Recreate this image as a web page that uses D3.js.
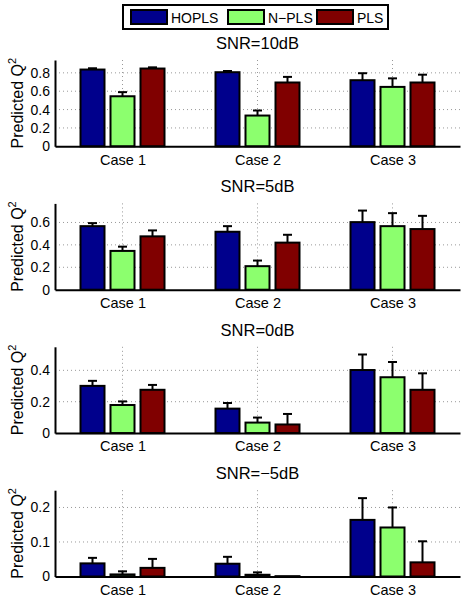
<!DOCTYPE html>
<html>
<head>
<meta charset="utf-8">
<script src="https://cdn.jsdelivr.net/npm/d3@7"></script>
<style>
  body { margin: 0; background: #fff; }
  svg { font-family: "Liberation Sans", Arial, sans-serif; }
</style>
</head>
<body>
<script>
// data: rows = cases, columns = methods
const methods = ["HOPLS", "N\u2212PLS", "PLS"];
const cases = ["Case 1", "Case 2", "Case 3"];
const snrTitles = ["SNR=10dB", "SNR=5dB", "SNR=0dB", "SNR=\u22125dB"];

const mean10 = [[0.836, 0.545, 0.847], [0.807, 0.335, 0.695], [0.720, 0.647, 0.695]];
const err10  = [[0.014, 0.045, 0.013], [0.013, 0.055, 0.061], [0.076, 0.093, 0.085]];
const mean5  = [[0.567, 0.346, 0.476], [0.517, 0.210, 0.420], [0.603, 0.567, 0.541]];
const err5   = [[0.027, 0.038, 0.053], [0.050, 0.050, 0.070], [0.103, 0.116, 0.118]];
const mean0  = [[0.301, 0.179, 0.276], [0.156, 0.067, 0.055], [0.402, 0.356, 0.276]];
const err0   = [[0.032, 0.023, 0.031], [0.036, 0.032, 0.067], [0.099, 0.097, 0.105]];
const meanM5 = [[0.038, 0.006, 0.025], [0.037, 0.005, 0.001], [0.164, 0.142, 0.041]];
const errM5  = [[0.016, 0.009, 0.026], [0.020, 0.007, 0.000], [0.063, 0.058, 0.061]];

const yMax   = [0.94, 0.77, 0.55, 0.25];
const yTicks = [[0, 0.2, 0.4, 0.6, 0.8], [0, 0.2, 0.4, 0.6], [0, 0.2, 0.4], [0, 0.1, 0.2]];

const means = [mean10, mean5, mean0, meanM5];
const errs = [err10, err5, err0, errM5];
const colors = ["rgb(0,0,140)", "rgb(140,255,110)", "rgb(128,0,0)"];

const W = 464, H = 598;
const left = 55, right = 460;
const firstTop = 60, panelStep = 143.4, plotH = 86.3;

const svg = d3.select("body").append("svg")
  .attr("width", W)
  .attr("height", H);

const x = d3.scaleLinear().domain([0.5, 3.5]).range([left, right]);
const groupStep = 2 / 9;          // matlab grouped bar spacing
const barW = groupStep * 0.8;

snrTitles.forEach((title, p) => {
  const top = firstTop + p * panelStep;
  const y = d3.scaleLinear().domain([0, yMax[p]]).range([top + plotH, top]);
  const g = svg.append("g");

  // dotted grid
  g.selectAll(".hgrid")
    .data(yTicks[p].filter(d => d > 0))
    .enter().append("line")
    .attr("x1", left).attr("x2", right)
    .attr("y1", d => y(d)).attr("y2", d => y(d))
    .attr("stroke", "#999").attr("stroke-width", 1)
    .attr("stroke-dasharray", "1,3");
  g.selectAll(".vgrid")
    .data([1, 2, 3])
    .enter().append("line")
    .attr("x1", d => x(d)).attr("x2", d => x(d))
    .attr("y1", top).attr("y2", y(0))
    .attr("stroke", "#999").attr("stroke-width", 1)
    .attr("stroke-dasharray", "1,3");

  const rows = [];
  means[p].forEach((row, c) => row.forEach((v, m) => {
    rows.push({c: c + 1, m: m, v: v, e: errs[p][c][m]});
  }));
  const cx = d => d.c + (d.m - 1) * groupStep;

  // error bars (upper half only)
  const eb = g.selectAll(".err").data(rows.filter(d => d.e > 0)).enter().append("g");
  eb.append("line")
    .attr("x1", d => x(cx(d))).attr("x2", d => x(cx(d)))
    .attr("y1", d => y(d.v)).attr("y2", d => y(d.v + d.e))
    .attr("stroke", "#000").attr("stroke-width", 2);
  eb.append("line")
    .attr("x1", d => x(cx(d)) - 4.5).attr("x2", d => x(cx(d)) + 4.5)
    .attr("y1", d => y(d.v + d.e)).attr("y2", d => y(d.v + d.e))
    .attr("stroke", "#000").attr("stroke-width", 2);

  g.selectAll(".bar").data(rows).enter().append("rect")
    .attr("x", d => x(cx(d) - barW / 2))
    .attr("width", d => x(cx(d) + barW / 2) - x(cx(d) - barW / 2))
    .attr("y", d => y(d.v))
    .attr("height", d => y(0) - y(d.v))
    .attr("fill", d => colors[d.m])
    .attr("stroke", "#000").attr("stroke-width", 2);

  // axes
  const yAxis = d3.axisLeft(y).tickValues(yTicks[p]).tickSize(0).tickPadding(5)
    .tickFormat(d => d === 0 ? "0" : String(d));
  const ya = g.append("g").attr("transform", "translate(" + left + ",0)").call(yAxis);
  ya.select(".domain").attr("stroke", "#000").attr("stroke-width", 2);
  ya.selectAll("text").attr("font-size", 14).attr("fill", "#000")
    .attr("font-family", "Liberation Sans, Arial, sans-serif");

  const xAxis = d3.axisBottom(x).tickValues([1, 2, 3]).tickSize(0).tickPadding(8)
    .tickFormat((d, i) => cases[i]);
  const xa = g.append("g").attr("transform", "translate(0," + y(0) + ")").call(xAxis);
  xa.select(".domain").attr("stroke", "#000").attr("stroke-width", 2);
  xa.selectAll("text").attr("font-size", 14.5).attr("fill", "#000")
    .attr("font-family", "Liberation Sans, Arial, sans-serif");

  g.append("text")
    .attr("x", (left + right) / 2).attr("y", top - 11)
    .attr("text-anchor", "middle")
    .attr("font-size", 16.5)
    .text(title);

  const lab = g.append("text")
    .attr("transform", "translate(22.5," + (top + plotH / 2) + ") rotate(-90)")
    .attr("text-anchor", "middle")
    .attr("font-size", 16);
  lab.append("tspan").text("Predicted Q");
  lab.append("tspan").attr("font-size", 11).attr("dy", -7).text("2");
});

// legend
const legend = svg.append("g");
legend.append("rect")
  .attr("x", 123).attr("y", 5).attr("width", 265).attr("height", 24)
  .attr("fill", "#fff").attr("stroke", "#000").attr("stroke-width", 2);
const legX = [131, 228, 317];
methods.forEach((name, i) => {
  legend.append("rect")
    .attr("x", legX[i]).attr("y", 10).attr("width", 36).attr("height", 14)
    .attr("fill", colors[i]).attr("stroke", "#000").attr("stroke-width", 2);
  legend.append("text")
    .attr("x", legX[i] + 40).attr("y", 22.5)
    .attr("font-size", 14)
    .text(name);
});
</script>
</body>
</html>
